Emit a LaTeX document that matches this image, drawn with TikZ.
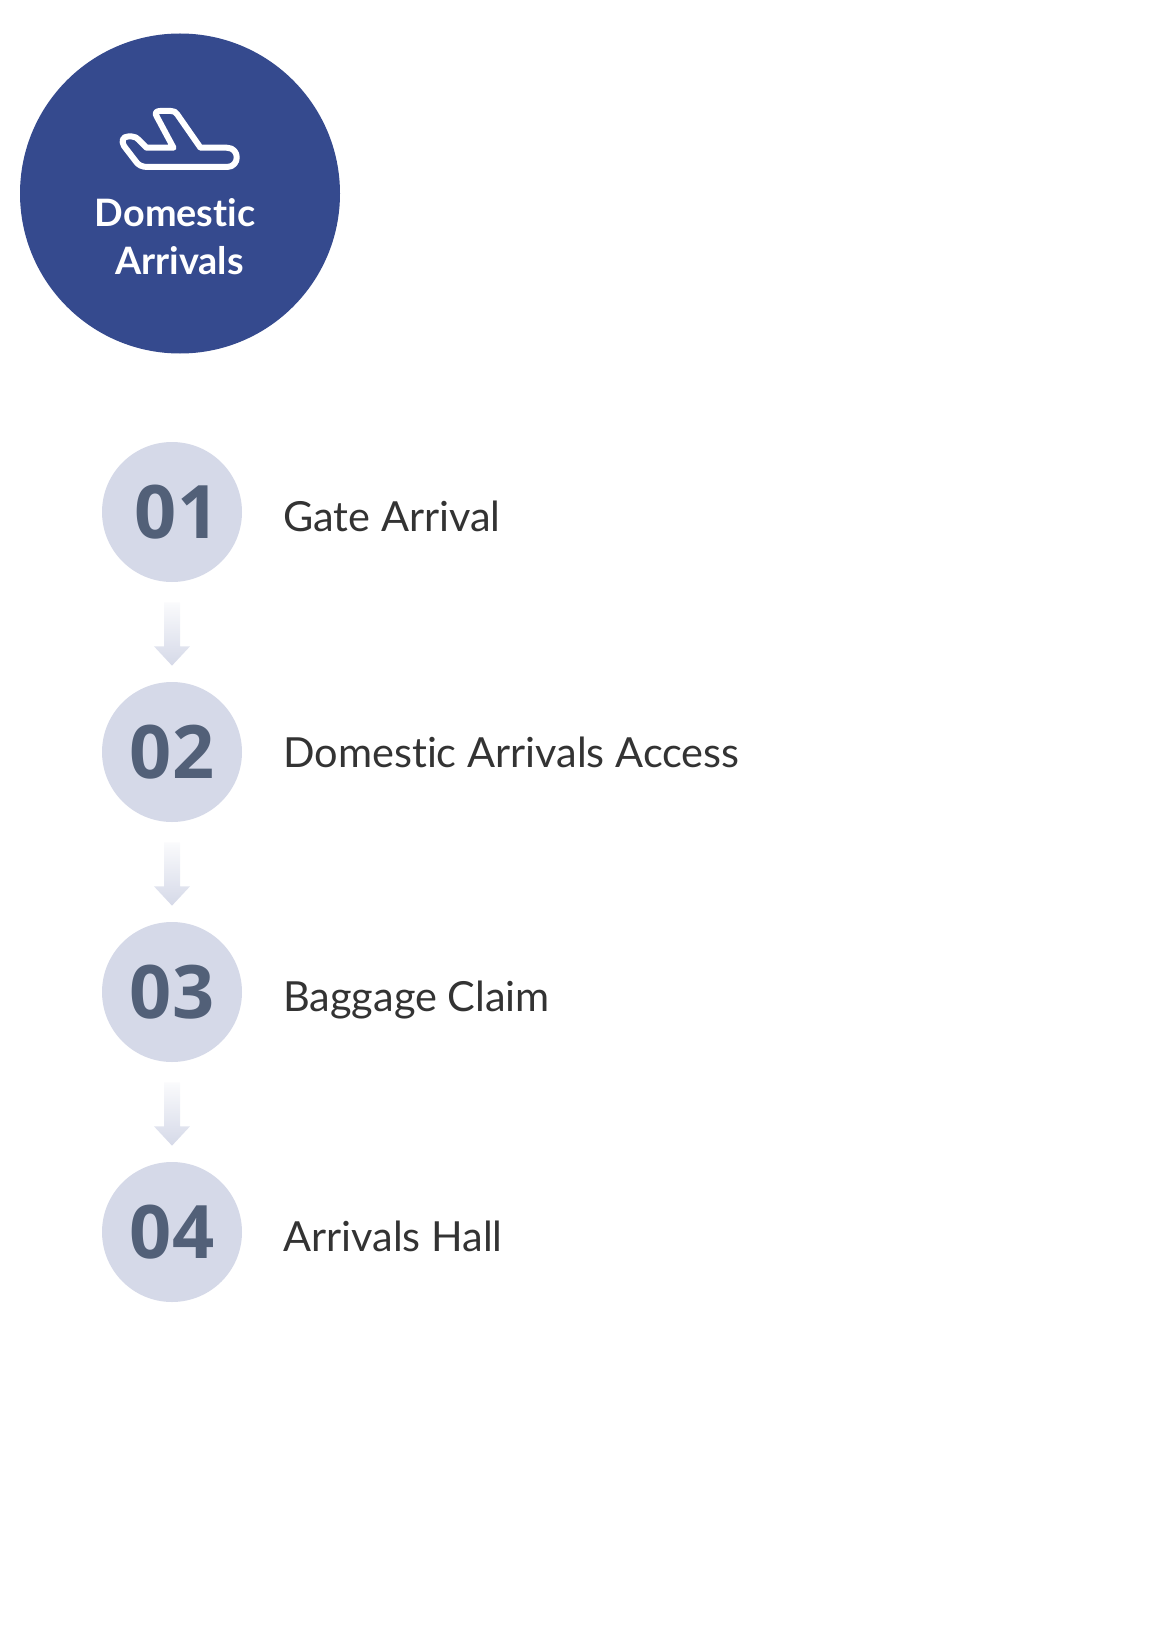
\documentclass[tikz,border=0pt]{standalone}
\usepackage{fontspec}
\usepackage{xcolor}
\usepackage{tikz}
\usetikzlibrary{calc}
\usetikzlibrary{positioning}
\setmainfont{Lato}[Ligatures=NoCommon]
\newfontfamily\titlefont{Lato Bold}[Ligatures=NoCommon]
\newfontfamily\numfont{Open Sans}
\definecolor{navy}{HTML}{354A8E}
\definecolor{pale}{HTML}{D5D9E8}
\definecolor{slate}{HTML}{526078}
\definecolor{ink}{HTML}{333333}
\tikzset{
bigcircle/.style={circle, fill=navy, inner sep=0pt, minimum size=6.4cm},
numcircle/.style={circle, fill=pale, text=slate, inner sep=0pt, minimum size=2.8cm, font=\numfont\bfseries\fontsize{42}{42}\selectfont},
steplabel/.style={anchor=base west, inner sep=0pt, text=ink, font=\fontsize{23.6}{23.6}\selectfont},
titlelabel/.style={anchor=base, inner sep=0pt, text=white, font=\titlefont\fontsize{21.5}{21.5}\selectfont},
}
\begin{document}
\begin{tikzpicture}
\useasboundingbox (0, 0) rectangle (23.2, -32.8);
\node [bigcircle] (D) at (3.6, -3.87) {};
\node [titlelabel] (T1) at (3.5, -4.54) {Domestic};
\node [titlelabel] (T2) at (3.59, -5.5) {Arrivals};
% plane
\draw [white, line width=0.12cm, line join=round] (2.56, -2.73) -- (2.64, -2.73) .. controls (2.7, -2.73) and (2.74, -2.76) .. (2.78, -2.8) -- (2.93, -2.955) -- (3.47, -2.955) -- (3.13, -2.32) .. controls (3.09, -2.26) and (3.13, -2.22) .. (3.2, -2.22) -- (3.42, -2.22) .. controls (3.48, -2.22) and (3.51, -2.24) .. (3.54, -2.28) -- (4.01, -2.955) -- (4.54, -2.955) .. controls (4.8, -2.955) and (4.8, -3.34) .. (4.54, -3.34) -- (2.95, -3.34) .. controls (2.84, -3.34) and (2.76, -3.3) .. (2.71, -3.22) -- (2.48, -2.92) .. controls (2.42, -2.82) and (2.46, -2.73) .. (2.56, -2.73) -- cycle;
\node [numcircle] (N1) at (3.44, -10.24) {\kern0.2cm 01};
\node [numcircle] (N2) at (3.44, -15.04) {02};
\node [numcircle] (N3) at (3.44, -19.84) {03};
\node [numcircle] (N4) at (3.44, -24.64) {04};
\node [steplabel] (L1) at (5.66, -10.63) {Gate Arrival};
\node [steplabel] (L2) at (5.66, -15.34) {Domestic Arrivals Access};
\node [steplabel] (L3) at (5.66, -20.23) {Baggage Claim};
\node [steplabel] (L4) at (5.66, -25.03) {Arrivals Hall};
\foreach \a/\b in {N1/N2, N2/N3, N3/N4} {
\shade [top color=pale!12, bottom color=pale]
  ($(\a.south)+(-0.16, -0.4)$) -- ($(\a.south)+(0.16, -0.4)$) -- ($(\a.south)+(0.16, -1.28)$) -- ($(\a.south)+(0.36, -1.28)$)
  -- ($(\b.north)+(0, 0.32)$) -- ($(\a.south)+(-0.36, -1.28)$) -- ($(\a.south)+(-0.16, -1.28)$) -- cycle;
}
\end{tikzpicture}
\end{document}
